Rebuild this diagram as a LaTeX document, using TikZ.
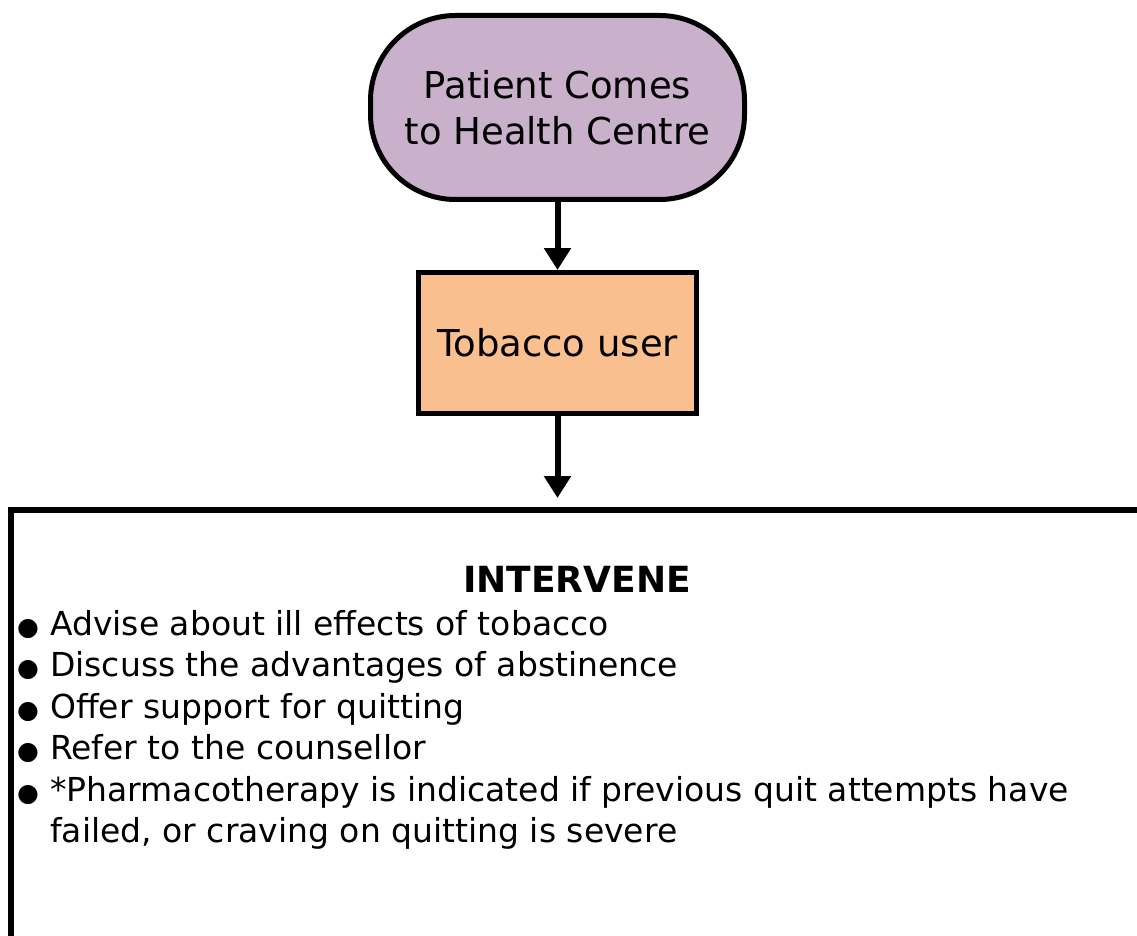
\documentclass[tikz,border=0pt]{standalone}
\usepackage{fontspec}
\setmainfont{DejaVu Sans}
\usepackage{tikz}
\usetikzlibrary{arrows.meta, positioning}
\definecolor{VisitLilac}{RGB}{201, 177, 203}
\definecolor{UserPeach}{RGB}{249, 191, 143}
\newcommand{\dotmark}{\makebox[33pt][l]{\fontsize{25}{25}\selectfont ●}}

\begin{document}
\begin{tikzpicture}[x=1pt, y=-1pt,
  termbox/.style={draw, line width=5pt, rounded corners=85pt, fill=VisitLilac,
    minimum width=374pt, minimum height=184pt, align=center,
    font=\fontsize{37}{46}\selectfont},
  userbox/.style={draw, line width=5pt, fill=UserPeach,
    minimum width=278pt, minimum height=141pt, font=\fontsize{37}{44}\selectfont},
  flow/.style={line width=6pt, -{Triangle[length=22pt, width=26pt]}}]
  \clip (0,0) rectangle (1137,936);
  \fill[white] (0,0) rectangle (1137,936);

  \node[termbox] (visit) at (557.5,107.5) {Patient Comes\\to Health Centre};
  \node[userbox, below=68pt of visit] (user) {Tobacco user};
  \node[draw, line width=6pt, outer sep=0pt, anchor=north west,
    minimum width=1200pt, minimum height=500pt] (intervene) at (11,510) {};

  \draw[flow] (visit) -- (user);
  \draw[flow, shorten >=12pt] (user) -- (user |- intervene.north);

  \node[anchor=base, font=\bfseries\fontsize{36}{40}\selectfont] (title) at (577,592) {INTERVENE};
  \node[anchor=north west, inner sep=0pt, align=left,
    font=\fontsize{33}{41.5}\selectfont] (steps) at (17,610) {
    \dotmark Advise about ill effects of tobacco\\
    \dotmark Discuss the advantages of abstinence\\
    \dotmark Offer support for quitting\\
    \dotmark Refer to the counsellor\\
    \dotmark *Pharmacotherapy is indicated if previous quit attempts have\\
    \hspace*{33pt}failed, or craving on quitting is severe};
\end{tikzpicture}
\end{document}
